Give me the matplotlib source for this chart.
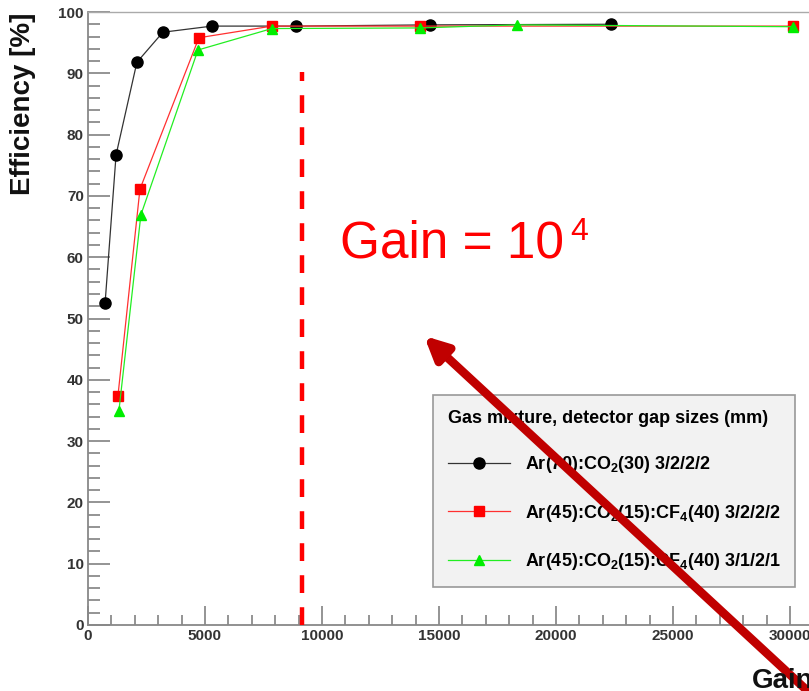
import numpy as np
import matplotlib.pyplot as plt
from matplotlib.ticker import MultipleLocator
import matplotlib.patheffects as pe

plt.rcParams['font.family'] = ['Liberation Sans', 'DejaVu Sans']
plt.rcParams['mathtext.default'] = 'regular'

# %% ---------------------------------
#           data
# ------------------------------------
gain_ar_co2 = [730, 1200, 2090, 3200, 5300, 8900, 14600, 22350]
eff_ar_co2 = [52.5, 76.7, 91.8, 96.7, 97.7, 97.7, 97.9, 98.0]

gain_cf4_3222 = [1280, 2220, 4740, 7860, 14200, 30130]
eff_cf4_3222 = [37.4, 71.1, 95.8, 97.7, 97.7, 97.7]

gain_cf4_3121 = [1320, 2260, 4700, 7860, 14200, 18330, 30130]
eff_cf4_3121 = [34.9, 66.9, 93.8, 97.3, 97.4, 97.9, 97.6]

labels = [r'Ar(70):CO$_2$(30) 3/2/2/2',
          r'Ar(45):CO$_2$(15):CF$_4$(40) 3/2/2/2',
          r'Ar(45):CO$_2$(15):CF$_4$(40) 3/1/2/1']
legend_title = 'Gas mixture, detector gap sizes (mm)'

gain_marker = 9150
eff_marker_top = 90.2

# %% ---------------------------------
#           figure
# ------------------------------------
W, H = 809, 691
fig = plt.figure(figsize=(W / 100, H / 100), dpi=100)
ax = fig.add_axes([88 / W, 66 / H, (825 - 88) / W, (625 - 12) / H])

ax.plot(gain_ar_co2, eff_ar_co2, color='#333333', lw=0.9, marker='o', ms=8,
        mfc='black', mec='black', label=labels[0], zorder=3)
ax.plot(gain_cf4_3222, eff_cf4_3222, color='#ff3030', lw=0.9, marker='s', ms=7.5,
        mfc='red', mec='red', label=labels[1], zorder=4)
ax.plot(gain_cf4_3121, eff_cf4_3121, color='#22ee22', lw=0.9, marker='^', ms=7,
        mfc='#00ee00', mec='#00ee00', label=labels[2], zorder=5)

ax.plot([gain_marker, gain_marker], [0, eff_marker_top], color='red', lw=3.2,
        dashes=(4, 3.2), zorder=6)

ax.set_xlim(0, 31500)
ax.set_ylim(0, 100)

ax.xaxis.set_major_locator(MultipleLocator(5000))
ax.xaxis.set_minor_locator(MultipleLocator(1000))
ax.yaxis.set_major_locator(MultipleLocator(10))
ax.yaxis.set_minor_locator(MultipleLocator(2))

ax.tick_params(axis='both', which='both', direction='in', colors='#777777',
               width=1.1, labelcolor='#333333', labelsize=11)
ax.tick_params(axis='y', which='major', length=15.8, pad=3)
ax.tick_params(axis='y', which='minor', length=8.6)
ax.tick_params(axis='x', which='major', length=13.7, pad=3)
ax.tick_params(axis='x', which='minor', length=7.2)
ax.tick_params(top=False, right=False, which='both')
for lab in ax.get_xticklabels() + ax.get_yticklabels():
    lab.set_fontweight('bold')

for side in ['left', 'bottom']:
    ax.spines[side].set_color('#888888')
    ax.spines[side].set_linewidth(1.3)
ax.spines['top'].set_color('#aaaaaa')
ax.spines['top'].set_linewidth(1.0)
ax.spines['right'].set_visible(False)

leg = ax.legend(loc='upper left', bbox_to_anchor=(433 / W, 1 - 395 / H),
                bbox_transform=fig.transFigure, borderaxespad=0,
                title=legend_title, alignment='left',
                prop={'size': 13, 'weight': 'bold'},
                title_fontproperties={'size': 13, 'weight': 'bold'},
                handlelength=3.45, handletextpad=0.8, labelspacing=1.52,
                borderpad=0.82, fancybox=False, framealpha=1,
                facecolor='#f2f2f2', edgecolor='#999999')
leg.get_frame().set_linewidth(1.2)
leg.set_zorder(8)

fig.text(23 / W, 1 - 13 / H, 'Efficiency [%]', rotation=90, ha='center', va='top',
         fontsize=20, fontweight='bold', color='#111111')
fig.text(752 / W, 1 - 688 / H, 'Gain', fontsize=20, fontweight='bold',
         color='#111111', va='baseline')

# "Gain = 10" with a superscript placed right after it
gtxt = fig.text(340 / W, 1 - 258 / H, 'Gain = 10', fontsize=37, color='red',
                va='baseline')
fig.canvas.draw()
bb = gtxt.get_window_extent()
fig.text((bb.x1 + 6) / W, 1 - 240 / H, '4', fontsize=23, color='red',
         va='baseline')

arr = ax.annotate('', xy=(422, H - 334), xycoords='figure pixels',
                  xytext=(840, -30), textcoords='figure pixels',
                  arrowprops=dict(arrowstyle='-|>,head_length=0.45,head_width=0.22',
                                  color='#c00000', lw=6.2, mutation_scale=30),
                  annotation_clip=False, zorder=10)
arr.arrow_patch.set_path_effects([pe.SimplePatchShadow(offset=(2, -2), alpha=0.3),
                                  pe.Normal()])

fig.savefig('out.png', dpi=100)
